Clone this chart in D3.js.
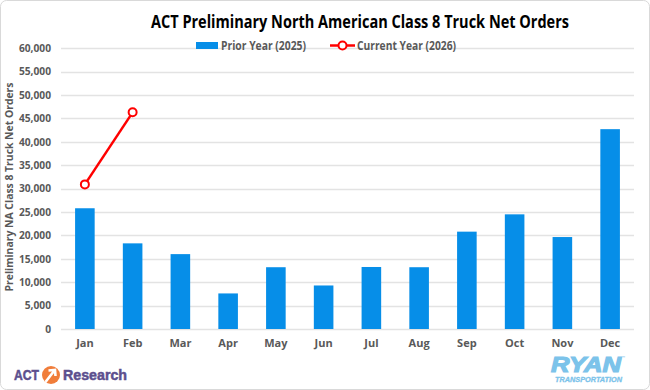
<!DOCTYPE html>
<html><head><meta charset="utf-8">
<script src="https://cdn.jsdelivr.net/npm/d3@7"></script>
<style>body{margin:0;background:#fff;}svg{display:block;font-family:"Open Sans","Liberation Sans",sans-serif;}</style>
</head><body>
<svg id="c" width="650" height="390"></svg>
<script>
const months = ["Jan","Feb","Mar","Apr","May","Jun","Jul","Aug","Sep","Oct","Nov","Dec"];
const prior2025 = [25800,18300,16000,7600,13200,9300,13250,13200,20800,24500,19650,42700];
const current2026 = [30900,46300];
const yTicks = [0,5000,10000,15000,20000,25000,30000,35000,40000,45000,50000,55000,60000];

const svg = d3.select("#c");
svg.append("rect").attr("x",0.5).attr("y",0.5).attr("width",649).attr("height",389).attr("rx",6)
  .attr("fill","#fff").attr("stroke","#d9d9d9");

const L=61, R=634, T=48.2, B=329;
const x = d3.scaleBand().domain(months).range([L,R]).paddingInner(0.59).paddingOuter(0.295);
const y = d3.scaleLinear().domain([0,60000]).range([B,T]);

// gridlines
svg.append("g").selectAll("line").data(yTicks).join("line")
  .attr("x1",L).attr("x2",R).attr("y1",d=>Math.round(y(d))+0.5).attr("y2",d=>Math.round(y(d))+0.5)
  .attr("stroke","#e3e3e3").attr("stroke-width",1.3);

// y axis
const ya = svg.append("g").attr("transform",`translate(${L},0)`)
  .call(d3.axisLeft(y).tickValues(yTicks).tickFormat(d3.format(",")).tickSize(0).tickPadding(10));
ya.select(".domain").remove();
ya.selectAll("text").attr("fill","#595959").attr("font-size",10.2).attr("font-weight","bold")
  .attr("font-family","'Open Sans','Liberation Sans',sans-serif");

// x axis
const xa = svg.append("g").attr("transform",`translate(0,${B})`)
  .call(d3.axisBottom(x).tickSize(0).tickPadding(10));
xa.select(".domain").remove();
xa.selectAll("text").attr("fill","#595959").attr("font-size",11).attr("font-weight","bold")
  .attr("font-family","'Open Sans','Liberation Sans',sans-serif");

// bars
svg.append("g").selectAll("rect").data(prior2025).join("rect")
  .attr("x",(d,i)=>x(months[i])).attr("width",x.bandwidth())
  .attr("y",d=>y(d)).attr("height",d=>B-y(d)).attr("fill","#068ee8");

// line
const cx = i => x(months[i]) + x.bandwidth()/2;
svg.append("path").datum(current2026)
  .attr("d",d3.line().x((d,i)=>cx(i)).y(d=>y(d)))
  .attr("fill","none").attr("stroke","#ff0000").attr("stroke-width",2.5);
svg.append("g").selectAll("circle").data(current2026).join("circle")
  .attr("cx",(d,i)=>cx(i)).attr("cy",d=>y(d)).attr("r",4)
  .attr("fill","#fff").attr("stroke","#ff0000").attr("stroke-width",2);

// title
svg.append("text").attr("x",360).attr("y",28).attr("text-anchor","middle")
  .attr("font-size",17).attr("font-weight","bold").attr("fill","#000")
  .attr("textLength",418).attr("lengthAdjust","spacingAndGlyphs")
  .text("ACT Preliminary North American Class 8 Truck Net Orders");

// y title
svg.append("text").attr("transform","translate(13,187) rotate(-90)").attr("text-anchor","middle")
  .attr("font-size",11).attr("font-weight","bold").attr("fill","#595959")
  .attr("textLength",209).attr("lengthAdjust","spacingAndGlyphs")
  .text("Preliminary NA Class 8 Truck Net Orders");

// legend
const lg = svg.append("g");
lg.append("rect").attr("x",196).attr("y",42).attr("width",22).attr("height",7).attr("fill","#068ee8");
lg.append("text").attr("x",221).attr("y",49.5).attr("font-size",11.5).attr("font-weight","bold").attr("fill","#595959")
  .attr("textLength",85).attr("lengthAdjust","spacingAndGlyphs").text("Prior Year (2025)");
lg.append("line").attr("x1",330).attr("x2",355).attr("y1",45.5).attr("y2",45.5).attr("stroke","#ff0000").attr("stroke-width",2.5);
lg.append("circle").attr("cx",342.5).attr("cy",45.5).attr("r",4).attr("fill","#fff").attr("stroke","#ff0000").attr("stroke-width",2);
lg.append("text").attr("x",357).attr("y",49.5).attr("font-size",11.5).attr("font-weight","bold").attr("fill","#595959")
  .attr("textLength",99).attr("lengthAdjust","spacingAndGlyphs").text("Current Year (2026)");

// ACT Research logo
const al = svg.append("g");
al.append("text").attr("x",14).attr("y",380).attr("font-size",14).attr("font-weight","bold")
  .attr("fill","#5c4f8e").attr("stroke","#5c4f8e").attr("stroke-width",0.5).attr("font-family","'Liberation Sans',sans-serif")
  .attr("textLength",25).attr("lengthAdjust","spacingAndGlyphs").text("ACT");
al.append("circle").attr("cx",51).attr("cy",375).attr("r",9).attr("fill","#f07d3a");
al.append("path").attr("d","M45.5,382 L54,371 M48.5,370.5 L55,370 L55.5,376").attr("stroke","#fff").attr("stroke-width",2.6).attr("fill","none");
al.append("text").attr("x",63).attr("y",380).attr("font-size",14).attr("font-weight","bold")
  .attr("fill","#5c4f8e").attr("stroke","#5c4f8e").attr("stroke-width",0.5).attr("font-family","'Liberation Sans',sans-serif")
  .attr("textLength",64).attr("lengthAdjust","spacingAndGlyphs").text("Research");

// RYAN logo
const rl = svg.append("g");
rl.append("text").attr("x",551).attr("y",372).attr("font-size",22)
  .attr("font-weight","bold").attr("font-style","italic").attr("fill","#7cc3ea").attr("stroke","#7cc3ea").attr("stroke-width",1.2)
  .attr("font-family","'Liberation Sans',sans-serif").attr("textLength",70).attr("lengthAdjust","spacingAndGlyphs").text("RYAN");
rl.append("text").attr("x",622).attr("y",359).attr("font-size",4).attr("fill","#7cc3ea").text("™");
rl.append("text").attr("x",555).attr("y",381.5).attr("font-size",7)
  .attr("font-weight","bold").attr("font-style","italic").attr("fill","#7cc3ea").attr("stroke","#7cc3ea").attr("stroke-width",0.3)
  .attr("font-family","'Liberation Sans',sans-serif").attr("textLength",67).attr("lengthAdjust","spacingAndGlyphs").text("TRANSPORTATION");
</script>
</body></html>
